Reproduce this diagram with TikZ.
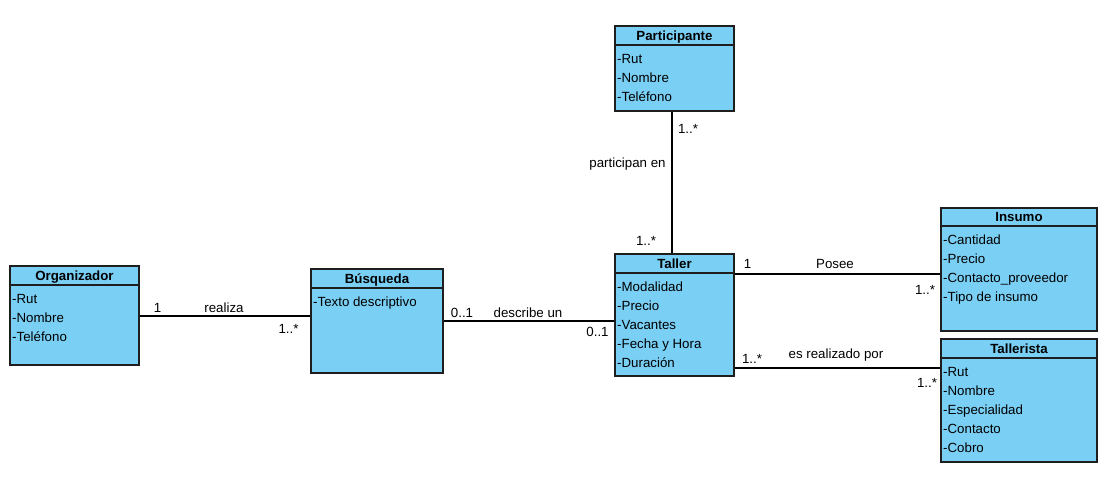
\documentclass[tikz,border=0pt]{standalone}
\usepackage{fontspec}
\setmainfont{Liberation Sans}
\usetikzlibrary{fit}
\definecolor{clsfill}{RGB}{122,207,245}
\definecolor{clsline}{RGB}{30,30,30}
\tikzset{
  cls/.style={draw=clsline, fill=clsfill, line width=1.4pt, inner sep=0pt, rectangle},
  hdr/.style={draw=clsline, line width=1.2pt},
  ttl/.style={font=\fontsize{13.3}{16}\selectfont\bfseries, anchor=base, inner sep=0pt},
  attr/.style={font=\fontsize{13.3}{16}\selectfont, anchor=base west, inner sep=0pt},
  lbl/.style={font=\fontsize{13.3}{16}\selectfont, anchor=base, inner sep=0pt},
  assoc/.style={draw=black, line width=1.3pt},
}
% name, x1, y1, x2, y2, header y, title, attributes
\newcommand{\umlcls}[8]{%
  \node[cls, fit={(#2,#3) (#4,#5)}] (#1) {};
  \draw[hdr] (#2,#6) -- (#4,#6);
  \node[ttl] (#1-t) at ({(#2+#4)/2},{#6-5}) {#7};
  \foreach \a [count=\i] in {#8} {
    \node[attr] (#1-\i) at ({#2+2},{#6+18+19*(\i-1)}) {\a};
  }%
}
\begin{document}
\begin{tikzpicture}[x=1pt,y=-1pt]
\useasboundingbox (0,0) rectangle (1106,485);

\umlcls{org}{10}{266}{139}{365}{285}{Organizador}{-Rut,-Nombre,-Teléfono}
\umlcls{bus}{311}{269}{443}{373}{288}{Búsqueda}{-Texto descriptivo}
\umlcls{par}{615}{26}{734}{111}{45}{Participante}{-Rut,-Nombre,-Teléfono}
\umlcls{tal}{615}{254}{734}{376}{273}{Taller}{-Modalidad,-Precio,-Vacantes,-Fecha y Hora,-Duración}
\umlcls{ins}{941}{208}{1097}{331}{226}{Insumo}{-Cantidad,-Precio,-Contacto\_proveedor,-Tipo de insumo}
\umlcls{tlr}{941}{339}{1097}{462}{358}{Tallerista}{-Rut,-Nombre,-Especialidad,-Contacto,-Cobro}

% associations
\draw[assoc] (org.east |- 0,316) -- (bus.west |- 0,316);
\draw[assoc] (bus.east |- 0,321) -- (tal.west |- 0,321);
\draw[assoc] (par.south -| 672,0) -- (tal.north -| 672,0);
\draw[assoc] (tal.east |- 0,274) -- (ins.west |- 0,274);
\draw[assoc] (tal.east |- 0,368) -- (tlr.west |- 0,368);

% labels
\node[lbl] (l1) at (157.5,312) {1};
\node[lbl] (l2) at (224,312) {realiza};
\node[lbl] (l3) at (288.5,333) {1..*};

\node[lbl] (l4) at (462,317) {0..1};
\node[lbl] (l5) at (528,317) {describe un};
\node[lbl] (l6) at (597.5,336) {0..1};

\node[lbl] (l7) at (688,133) {1..*};
\node[lbl] (l8) at (627.5,167) {participan en};
\node[lbl] (l9) at (646,245) {1..*};

\node[lbl] (l10) at (747.5,268) {1};
\node[lbl] (l11) at (835,268) {Posee};
\node[lbl] (l12) at (925,294) {1..*};

\node[lbl] (l13) at (752,363) {1..*};
\node[lbl] (l14) at (836,358) {es realizado por};
\node[lbl] (l15) at (927,387) {1..*};
\end{tikzpicture}
\end{document}
